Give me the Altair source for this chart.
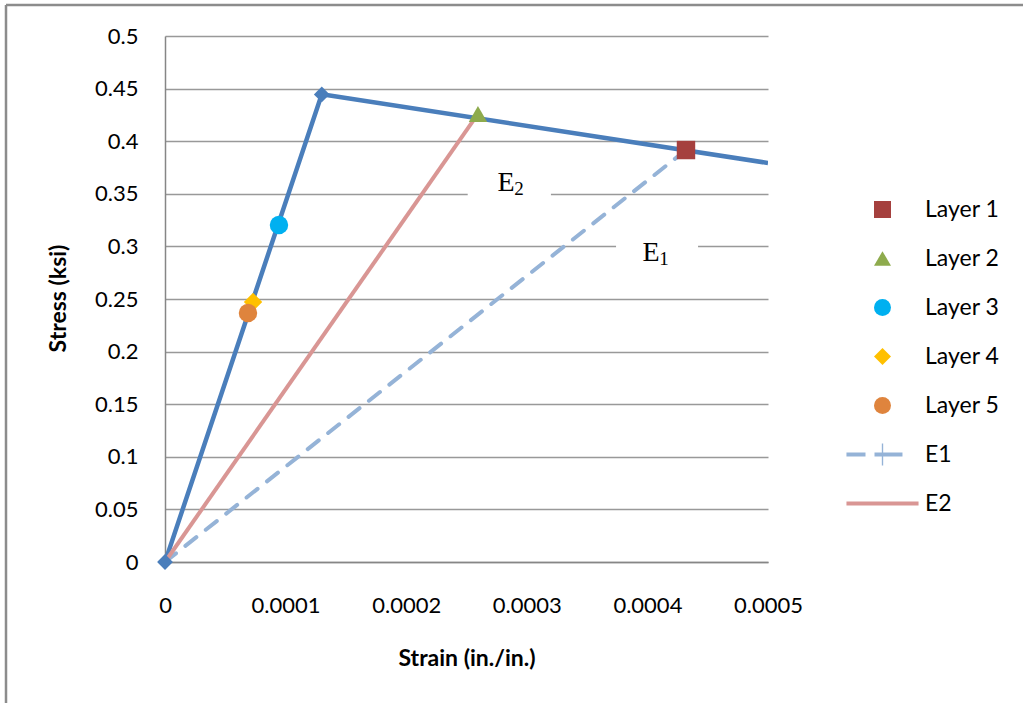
import altair as alt
import pandas as pd

# ---- data ----
curve_strain = [0.0, 0.000130, 0.0005]
curve_stress = [0.0, 0.4445, 0.3793]
marker_count = 2  # diamonds drawn on first two curve points

layer_names = ["Layer 1", "Layer 2", "Layer 3", "Layer 4", "Layer 5"]
layer_strain = [0.000432, 0.0002595, 0.0000945, 0.000073, 0.0000688]
layer_stress = [0.3916, 0.4259, 0.3203, 0.2471, 0.2367]

e1_strain = [0.0, 0.000432]
e1_stress = [0.0, 0.3916]
e2_strain = [0.0, 0.0002595]
e2_stress = [0.0, 0.4259]

x_ticks = [0, 0.0001, 0.0002, 0.0003, 0.0004, 0.0005]
y_ticks = [0, 0.05, 0.1, 0.15, 0.2, 0.25, 0.3, 0.35, 0.4, 0.45, 0.5]

labels_main = ["E", "E"]
labels_sub = ["2", "1"]
labels_strain = [0.0002877, 0.000408]
labels_stress = [0.3603, 0.2937]

legend_names = layer_names + ["E1", "E2"]

# ---- styling ----
BLUE = "#4A7EBB"
E1C = "#95B3D7"
E2C = "#D99694"
FONT = "Lato"
GRID = "#999999"

E2_PATH = "M-4.24,-0.24 L4.24,-0.24 L4.24,0.24 L-4.24,0.24 Z"
E1_PATH = ("M-4.24,-0.24 L-2,-0.24 L-2,0.24 L-4.24,0.24 Z "
           "M-0.94,-0.24 L2.35,-0.24 L2.35,0.24 L-0.94,0.24 Z "
           "M-0.08,-1.3 L0.08,-1.3 L0.08,1.3 L-0.08,1.3 Z")
shape_range = ["square", "triangle-up", "circle", "diamond", "circle", E1_PATH, E2_PATH]
color_range = ["#A5403E", "#8EAB4D", "#00B0F0", "#FFC000", "#DF843D", E1C, E2C]

curve_df = pd.DataFrame({"strain": curve_strain, "stress": curve_stress})
marker_df = curve_df.iloc[:marker_count]
layer_df = pd.DataFrame({"series": layer_names, "strain": layer_strain, "stress": layer_stress})
e1_df = pd.DataFrame({"strain": e1_strain, "stress": e1_stress})
e2_df = pd.DataFrame({"strain": e2_strain, "stress": e2_stress})
text_df = pd.DataFrame({"t": labels_main, "s": labels_sub, "strain": labels_strain, "stress": labels_stress})
box_df = pd.DataFrame({
    "x1": [0.000251, 0.000374], "x2": [0.000320, 0.000442],
    "y1": [0.330, 0.275], "y2": [0.375, 0.320],
})

xscale = alt.Scale(domain=[0, 0.0005], nice=False)
yscale = alt.Scale(domain=[0, 0.5], nice=False)

X = alt.X("strain:Q", scale=xscale, axis=alt.Axis(
    values=x_ticks, format="~g", title="Strain (in./in.)", grid=False, ticks=False, tickSize=0,
    labelPadding=33, labelFont=FONT, labelFontSize=22, labelColor="#000000",
    titleFont=FONT, titleFontSize=23, titleFontWeight="bold", titleColor="#000000",
    titleY=96, titleBaseline="middle",
    domainColor="#868686", domainWidth=1.5, labelFlush=False, labelOverlap=False))
Y = alt.Y("stress:Q", scale=yscale, axis=alt.Axis(
    values=y_ticks, format="~g", title="Stress (ksi)", grid=True, gridColor=GRID, gridWidth=1.4,
    ticks=False, tickSize=0, labelPadding=27, labelFont=FONT, labelFontSize=22, labelColor="#000000",
    titleFont=FONT, titleFontSize=23, titleFontWeight="bold", titleColor="#000000",
    titleX=-107, titleY=262, titleBaseline="middle", titleAlign="center", titleAngle=270,
    domainColor="#868686", domainWidth=1.5, labelFlush=False, labelOverlap=False))

frame_v = alt.Chart(pd.DataFrame({"a": [0]})).mark_rule(color="#8C8C8C", strokeWidth=2.5, clip=False).encode(
    x=alt.value(-159), y=alt.value(-31), y2=alt.value(670))
frame_h = alt.Chart(pd.DataFrame({"a": [0]})).mark_rule(color="#8C8C8C", strokeWidth=2.5, clip=False).encode(
    y=alt.value(-31), x=alt.value(-159), x2=alt.value(860))

boxes = alt.Chart(box_df).mark_rect(color="white").encode(
    x=alt.X("x1:Q", scale=xscale), x2="x2", y=alt.Y("y1:Q", scale=yscale), y2="y2")

curve = alt.Chart(curve_df).mark_line(color=BLUE, strokeWidth=4.5, clip=True).encode(x=X, y=Y)
e1 = alt.Chart(e1_df).mark_line(color=E1C, strokeWidth=4, strokeDash=[14, 12], strokeCap="round").encode(x=X, y=Y)
e2 = alt.Chart(e2_df).mark_line(color=E2C, strokeWidth=4).encode(x=X, y=Y)
markers = alt.Chart(marker_df).mark_point(shape="diamond", filled=True, opacity=1, size=250, color=BLUE).encode(x=X, y=Y)

points = alt.Chart(layer_df).mark_point(filled=True, opacity=1, size=340).encode(
    x=X, y=Y,
    color=alt.Color("series:N", scale=alt.Scale(domain=legend_names, range=color_range),
                    legend=alt.Legend(title=None, orient="none", legendX=706, legendY=162,
                                      symbolSize=289, padding=0, rowPadding=25, labelOffset=31,
                                      labelFont=FONT, labelFontSize=23, labelColor="#000000",
                                      symbolOpacity=1, symbolStrokeWidth=0)),
    shape=alt.Shape("series:N", scale=alt.Scale(domain=legend_names, range=shape_range)),
)

texts = alt.Chart(text_df).mark_text(font="Liberation Serif", fontSize=28, color="#000000", dx=-6).encode(
    x=alt.X("strain:Q", scale=xscale), y=alt.Y("stress:Q", scale=yscale), text="t:N")
subs = alt.Chart(text_df).mark_text(font="Liberation Serif", fontSize=19, color="#000000", dx=7, dy=6).encode(
    x=alt.X("strain:Q", scale=xscale), y=alt.Y("stress:Q", scale=yscale), text="s:N")

chart = alt.layer(frame_v, frame_h, boxes, curve, e1, e2, markers, points, texts, subs).properties(
    width=603, height=526,
    padding={"left": 165, "top": 36, "right": 255, "bottom": 141},
    autosize=alt.AutoSizeParams(type="none"),
    background="white",
).configure_view(stroke=None)

chart.save("out.html", embed_options={"renderer": "svg", "actions": False})
